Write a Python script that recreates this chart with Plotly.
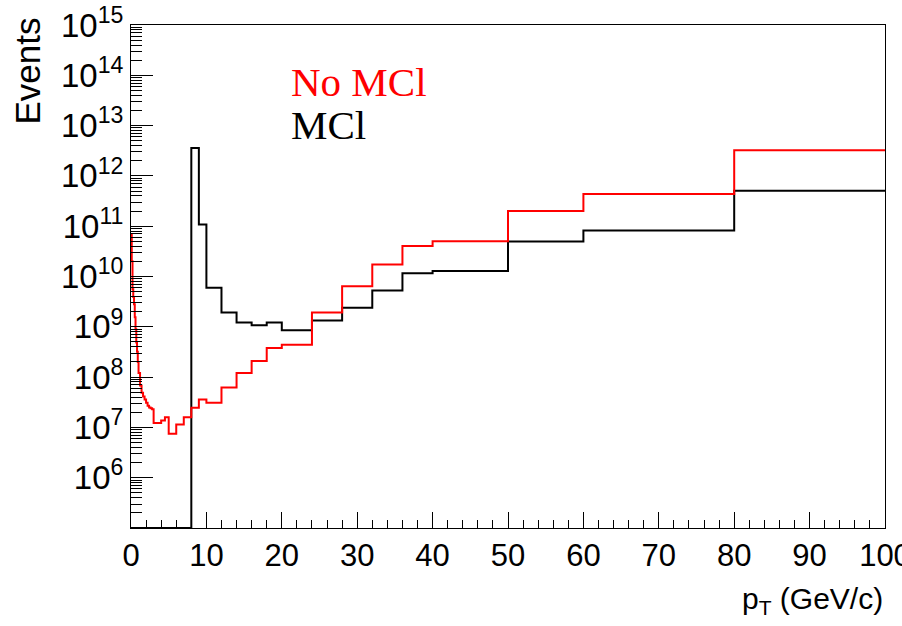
import numpy as np
import plotly.graph_objects as go

# ---- data ----
bin_edges = [0.0, 0.1, 0.2, 0.3, 0.4, 0.5, 0.6, 0.7, 0.8, 0.9, 1.0,
             1.2, 1.4, 1.6, 1.8, 2.0, 2.2, 2.4, 2.6, 2.8, 3.0,
             4.0, 4.5, 5.0, 6.0, 7.0, 8.0, 9.0, 10.0, 12.0, 14.0, 16.0,
             18.0, 20.0, 24.0, 28.0, 32.0, 36.0, 40.0, 50.0, 60.0, 80.0, 100.0]

no_mcl = [7.0e10, 2.0e10, 5.6e9, 3.9e9, 2.8e9, 1.55e9, 8.9e8, 4.9e8, 3.2e8, 2.0e8,
          1.2e8, 6.8e7, 4.9e7, 4.1e7, 3.6e7, 3.1e7, 2.7e7, 2.5e7, 2.4e7, 2.3e7,
          1.23e7, 1.37e7, 1.6e7, 7.5e6, 1.14e7, 1.6e7, 2.45e7, 3.6e7, 3.1e7, 6.2e7,
          1.2e8, 2.1e8, 3.8e8, 4.4e8, 1.93e9, 6.4e9, 1.74e10, 4.06e10, 5.0e10,
          2.0e11, 4.37e11, 3.24e12]

mcl = [0, 0, 0, 0, 0, 0, 0, 0, 0, 0,
       0, 0, 0, 0, 0, 0, 0, 0, 0, 0,
       0, 0, 0, 0, 0, 0, 3.6e12, 1.08e11, 6.0e9, 1.93e9,
       1.22e9, 1.07e9, 1.22e9, 8.5e8, 1.34e9, 2.38e9, 5.25e9, 1.16e10, 1.29e10,
       4.95e10, 8.2e10, 5.08e11]

legend_labels = ["No MCl", "MCl"]
y_decades = list(range(6, 16))
x_ticks = list(range(0, 101, 10))

# ---- helpers ----
Y_MIN_EXP, Y_MAX_EXP = 5, 15
y_floor = 10.0 ** Y_MIN_EXP
SANS = "Liberation Sans, Arial, sans-serif"
SERIF = "Liberation Serif, Times New Roman, serif"


def step_xy(edges, vals):
    v = np.maximum(np.asarray(vals, dtype=float), y_floor)  # empty bins drawn on the axis
    x = np.asarray(edges, dtype=float)
    y = np.append(v, v[-1])
    return x, y


fig = go.Figure()
for vals, color in [(mcl, "#000000"), (no_mcl, "#ff0000")]:
    x, y = step_xy(bin_edges, vals)
    fig.add_trace(go.Scatter(x=x, y=y, mode="lines", line=dict(color=color, width=2, shape="hv"),
                             showlegend=False, hoverinfo="skip"))

minor_vals = [k * 10.0 ** n for n in range(Y_MIN_EXP, Y_MAX_EXP) for k in range(2, 10)]

fig.update_layout(
    width=902, height=626,
    margin=dict(l=131, r=17, t=25, b=98),
    paper_bgcolor="white", plot_bgcolor="white",
    font=dict(family=SANS, color="black"),
    xaxis=dict(range=[0, 100], tickvals=x_ticks, ticktext=[str(t) for t in x_ticks],
               ticks="inside", ticklen=16, tickwidth=1, tickcolor="black",
               minor=dict(dtick=2, ticks="inside", ticklen=8, tickcolor="black", tickwidth=1),
               showline=True, linecolor="black", linewidth=1, mirror=True,
               ticklabeloverflow="allow", automargin=False,
               showgrid=False, zeroline=False, tickfont=dict(size=31)),
    yaxis=dict(type="log", range=[Y_MIN_EXP, Y_MAX_EXP],
               tickvals=[10.0 ** d for d in y_decades],
               ticktext=["10<sup>%d</sup>" % d for d in y_decades],
               ticks="inside", ticklen=22, tickwidth=1, tickcolor="black",
               minor=dict(tickvals=minor_vals, ticks="inside", ticklen=11, tickcolor="black", tickwidth=1),
               showline=True, linecolor="black", linewidth=1, mirror=True,
               automargin=False,
               showgrid=False, zeroline=False, tickfont=dict(size=33)),
)

fig.add_annotation(text="Events", textangle=-90, xref="paper", yref="paper",
                   x=(27 - 131) / 754, y=(528 - 16) / 503, xanchor="center", yanchor="top",
                   showarrow=False, font=dict(size=35, family=SANS))
fig.add_annotation(text="p<sub>T</sub> (GeV/c)", xref="paper", yref="paper",
                   x=1.0, y=(528 - 600) / 503, xanchor="right", yanchor="middle",
                   showarrow=False, font=dict(size=30, family=SANS))

for label, color, ypix in [(legend_labels[0], "#ff0000", 82), (legend_labels[1], "#000000", 125)]:
    fig.add_annotation(text=label, xref="paper", yref="paper",
                       x=(289 - 131) / 754, y=(528 - ypix) / 503, xanchor="left", yanchor="middle",
                       showarrow=False, font=dict(size=41, color=color, family=SERIF))

fig.write_html("out.html")
